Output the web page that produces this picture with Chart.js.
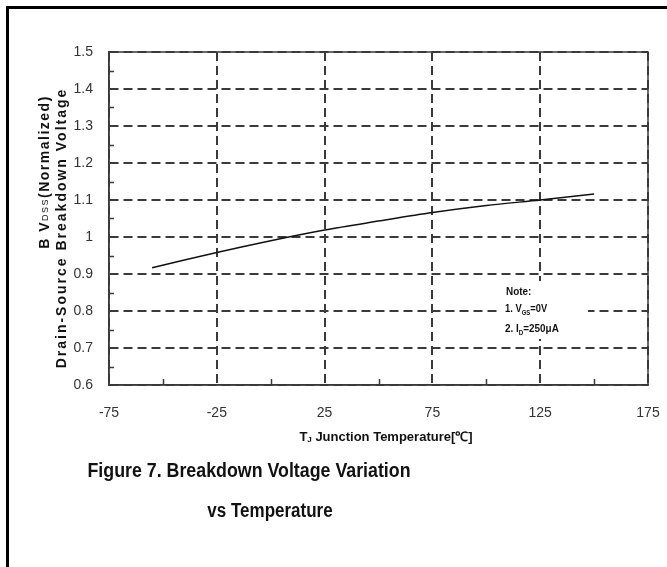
<!DOCTYPE html>
<html>
<head>
<meta charset="utf-8">
<script src="https://cdn.jsdelivr.net/npm/chart.js@4"></script>
<style>
html,body{margin:0;padding:0;background:#fff;}
#wrap{position:relative;width:667px;height:567px;}
</style>
</head>
<body>
<div id="wrap"><canvas id="c" width="667" height="567"></canvas></div>
<script>
// Data
const temperatures = [-55, -25, 0, 25, 50, 75, 100, 125, 150];
const bvNormalized = [0.917, 0.958, 0.990, 1.019, 1.043, 1.066, 1.085, 1.100, 1.116];
const xTickValues = [-75, -25, 25, 75, 125, 175];
const xMinorTicks = [-50, 0, 50, 100, 150];
const yMinorTicks = [0.65, 0.75, 0.85, 0.95, 1.05, 1.15, 1.25, 1.35, 1.45];
const xTitle = 'Junction Temperature[℃]';
const yTitle1 = '(Normalized)';
const yTitle2 = 'Drain-Source Breakdown Voltage';
const caption1 = 'Figure 7. Breakdown Voltage Variation';
const caption2 = 'vs Temperature';

const FONT = '"Liberation Sans", Arial, sans-serif';
const GRID = '#3a3a3a';

function drawRuns(ctx, runs, x, y, align, sx) {
  // runs: [text, size, bold, dy]
  sx = sx || 1;
  let total = 0;
  runs.forEach(r => { ctx.font = (r[2] ? 'bold ' : '') + r[1] + 'px ' + FONT; total += ctx.measureText(r[0]).width; });
  ctx.save();
  ctx.translate(x, y);
  ctx.scale(sx, 1);
  let cx = align === 'center' ? -total / 2 : 0;
  runs.forEach(r => {
    ctx.font = (r[2] ? 'bold ' : '') + r[1] + 'px ' + FONT;
    ctx.fillText(r[0], cx, (r[3] || 0));
    cx += ctx.measureText(r[0]).width;
  });
  ctx.restore();
}

const decor = {
  id: 'decor',
  afterDraw(chart) {
    const ctx = chart.ctx;
    const xs = chart.scales.x, ys = chart.scales.y;
    const a = chart.chartArea;
    ctx.save();
    // minor ticks
    ctx.strokeStyle = GRID; ctx.lineWidth = 1.5;
    xMinorTicks.forEach(v => {
      const px = Math.round(xs.getPixelForValue(v)) + 0.5;
      ctx.beginPath(); ctx.moveTo(px, a.bottom); ctx.lineTo(px, a.bottom - 6); ctx.stroke();
    });
    yMinorTicks.forEach(v => {
      const py = Math.round(ys.getPixelForValue(v)) + 0.5;
      ctx.beginPath(); ctx.moveTo(a.left, py); ctx.lineTo(a.left + 5, py); ctx.stroke();
    });
    // outer frame
    ctx.strokeStyle = '#000'; ctx.lineWidth = 3;
    ctx.beginPath(); ctx.moveTo(7.5, 600); ctx.lineTo(7.5, 7.5); ctx.lineTo(700, 7.5); ctx.stroke();

    ctx.fillStyle = '#111';
    ctx.textBaseline = 'middle';
    // x title
    ctx.letterSpacing = '0px';
    drawRuns(ctx, [['T', 13, true, 0], ['J', 8, true, 3], [' ' + xTitle, 13, true, 0]], 386, 437, 'center');
    // captions
    drawRuns(ctx, [[caption1, 20, true, 0]], 249, 471, 'center', 0.89);
    drawRuns(ctx, [[caption2, 20, true, 0]], 270, 511, 'center', 0.85);
    // note (white background hides grid)
    ctx.fillStyle = '#fff';
    ctx.fillRect(500, 281, 88, 58);
    ctx.fillStyle = '#111';
    drawRuns(ctx, [['Note:', 11, true, 0]], 506, 292, 'left', 0.9);
    drawRuns(ctx, [['1. V', 11, true, 0], ['GS', 7, true, 4], ['=0V', 11, true, 0]], 505, 309, 'left', 0.85);
    drawRuns(ctx, [['2. I', 11, true, 0], ['D', 7, true, 4], ['=250μA', 11, true, 0]], 505, 329, 'left', 0.9);
    // y titles (rotated)
    ctx.save();
    ctx.translate(45, 172); ctx.rotate(-Math.PI / 2);
    ctx.letterSpacing = '1.5px';
    drawRuns(ctx, [['B V', 14, true, 0], ['DSS', 9, false, 1], [yTitle1, 14, true, 0]], 0, 0, 'center');
    ctx.restore();
    ctx.save();
    ctx.translate(62, 228); ctx.rotate(-Math.PI / 2);
    ctx.letterSpacing = '2px';
    drawRuns(ctx, [[yTitle2, 14, true, 0]], 0, 0, 'center');
    ctx.restore();
    ctx.restore();
  }
};

new Chart(document.getElementById('c'), {
  type: 'line',
  data: {
    datasets: [{
      data: temperatures.map((t, i) => ({ x: t, y: bvNormalized[i] })),
      borderColor: '#111', borderWidth: 1.5, pointRadius: 0, tension: 0.3, fill: false
    }]
  },
  options: {
    responsive: false, animation: false, devicePixelRatio: 1,
    layout: { padding: { left: 0, top: 52, right: 19, bottom: 0 } },
    plugins: { legend: { display: false }, tooltip: { enabled: false }, title: { display: false } },
    scales: {
      x: {
        type: 'linear', min: -75, max: 175,
        afterBuildTicks: s => { s.ticks = xTickValues.map(v => ({ value: v })); },
        afterFit: s => { s.height = 182; s.paddingLeft = 0; s.paddingRight = 0; },
        ticks: { color: '#333', font: { family: FONT, size: 14 }, padding: 20, maxRotation: 0, autoSkip: false },
        grid: { color: GRID, lineWidth: 2, drawTicks: false },
        border: { display: true, color: GRID, width: 1.5, dash: [9, 5] }
      },
      y: {
        type: 'linear', min: 0.6, max: 1.5,
        ticks: { stepSize: 0.1, color: '#333', font: { family: FONT, size: 14 }, padding: 16,
          callback: v => String(Number(v.toFixed(1))) },
        afterFit: s => { s.width = 109; s.paddingTop = 0; s.paddingBottom = 0; },
        grid: { color: GRID, lineWidth: 2, drawTicks: false },
        border: { display: true, color: GRID, width: 1.5, dash: [9, 5] }
      }
    }
  },
  plugins: [{
    id: 'box',
    afterDatasetsDraw(chart) {
      const a = chart.chartArea, ctx = chart.ctx;
      ctx.save(); ctx.strokeStyle = GRID; ctx.lineWidth = 1.5;
      ctx.strokeRect(a.left, a.top, a.right - a.left, a.bottom - a.top);
      ctx.restore();
    }
  }, decor]
});
</script>
</body>
</html>
